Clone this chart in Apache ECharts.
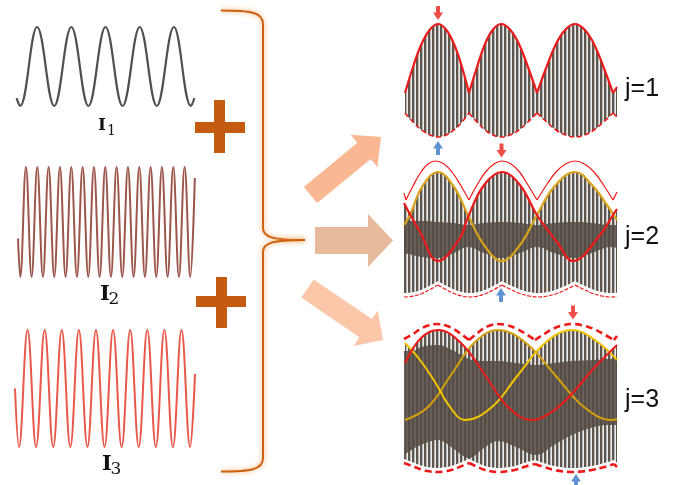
<!DOCTYPE html>
<html><head><meta charset="utf-8">
<script src="https://cdn.jsdelivr.net/npm/echarts@6/dist/echarts.min.js"></script>
<style>html,body{margin:0;padding:0;background:#fff}#c{width:682px;height:485px}</style>
</head><body><div id="c"></div>
<script>
// ===== DATA =====
// Left components: x = half-period index, y = normalised amplitude
const I1_t = [-0.2,0,1,2,3,4,5,6,7,8,9,10,10.2];
const I1_v = [-0.8,-1,1,-1,1,-1,1,-1,1,-1,1,-1,-0.8];
const I2_t = [-0.4,0,1,2,3,4,5,6,7,8,9,10,11,12,13,14,15,16,17,18,19,20,21,22,23,24,25,26,27,28,29,30,30.8];
const I2_v = [-0.3,-1,1,-1,1,-1,1,-1,1,-1,1,-1,1,-1,1,-1,1,-1,1,-1,1,-1,1,-1,1,-1,1,-1,1,-1,1,-1,0.8];
const I3_t = [-0.47,0,1,2,3,4,5,6,7,8,9,10,11,12,13,14,15,16,17,18,19,20,20.58];
const I3_v = [0,-1,1,-1,1,-1,1,-1,1,-1,1,-1,1,-1,1,-1,1,-1,1,-1,1,-1,0.25];

// Panel j=1 : time (a.u.) and intensity (a.u.), one sub-array per beat lobe
const p1X  = [[1,9,17.5,26,34,42,50,58,65],[65,73,81,89,97.5,106,115,124,133],[133,142.5,152,161.5,171,180.5,190,199.5,209],[209,213]];
const p1Hi = [[67,93,116,130.5,136,130.5,116,93,67],[67,93,116,130.5,136,130.5,116,93,67],[67,93,116,130.5,136,130.5,116,93,67],[67,73]];
const p1Lo = [[47,38,30,25,23,25,30,38,47],[47,38,30,25,23,25,30,38,47],[47,38,30,25,23,25,30,38,47],[47,43]];
const p1Marks = {down:[[34,147]], up:[[34,12]]};

// Panel j=2
const p2UpX = [[0,2],[2,9.5,17,24,31.5,40,48,56.5,65],[65,73,81.5,90,98,107,115.5,124,133],[133,142.5,152,161.5,171,180.5,190,199.5,209],[209,213]];
const p2UpY = [[112,105],[105,120,133,141,144,141,133,120,105],[105,120,133,141,144,141,133,120,105],[105,120,133,141,144,141,133,120,105],[105,113]];
const p2LoX = [[0,10,18,26,34],[34,42,50,58,66,74,82,90,98],[98,107,116,125,134.5,143.5,152.5,162,171],[171,180,189,198,207,213]];
const p2LoY = [[8,9,11.5,15.4,20],[20,15.4,11.5,9,8,9,11.5,15.4,20],[20,15.4,11.5,9,8,9,11.5,15.4,20],[20,15.4,11.5,9,8,8.2]];
const p2BotY = [[12,13,15.5,19.4,24],[24,19.4,15.5,13,12,13,15.5,19.4,24],[24,19.4,15.5,13,12,13,15.5,19.4,24],[24,19.4,15.5,13,12,12.2]];
const p2RedX = [0,16,34,56,64,80,98,116,133,153,169,196,209,213];
const p2RedY = [102,73,44,67,88,120,133,120,90,63,44,70,90,96];
const p2YelX = [0,6,18,34,50,64,80,98,116,133,150,171,188,203,213];
const p2YelY = [80,90,118,133,118,90,60,44,60,90,118,133,120,100,85];
const p2DarkX    = [0,18,34,50,64,80,98,116,133,150,171,188,207,213];
const p2DarkTopY = [84,84,83,82,80,82,83,82,80,82,83,82,80,80];
const p2DarkBotY = [52,48,47,52,58,52,47,52,58,52,47,52,58,57];
const p2Marks = {down:[[97.5,154.5]], up:[[97,10]]};

// Panel j=3
const p3EnvX = [[0,9,17,25,33,41,49,57,65],[65,72.25,79.5,86.75,94,103,112.5,121.75,131],[131,140.25,149.5,158.75,168,178.5,189,199.5,210],[210,213]];
const p3UpY  = [[146,151,156.4,159.7,161,159.7,156.4,151,145],[145,151,156.4,159.7,161,159.7,156.4,151,145],[145,151,156.4,159.7,161,159.7,156.4,151,145],[145,149]];
const p3LoY  = [[22,18.6,15.6,13.7,13,13.7,15.6,18.6,22],[22,18.6,15.6,13.7,13,13.7,15.6,18.6,21],[21,17.8,15.2,13.6,13,13.6,15.2,17.8,21],[21,18]];
const p3BotY = [[26,22.6,19.6,17.7,17,17.7,19.6,22.6,26],[26,22.6,19.6,17.7,17,17.7,19.6,22.6,25],[25,21.8,19.2,17.6,17,17.6,19.2,21.8,25],[25,22]];
const p3RedX  = [1,17,34,57,81,104,128,146,164,191,213];
const p3RedY  = [122,147,155,142,110,78,65,72,87,118,140];
const p3YelX  = [1,16,31,46,61,88,114,141,168,191,213];
const p3YelY  = [142,125,103,78,65,78,110,142,155,145,125];
const p3GoldX = [1,24,47,70,94,122,151,180,208,213];
const p3GoldY = [65,78,110,142,155,142,110,78,65,66];
const p3DarkX    = [0,9,17,34,50,65,80,94,112,132,150,168,190,205,213];
const p3DarkTopY = [134,134,138,140,134,126,124,124,122,120,122,124,125,126,126];
const p3DarkBotY = [30,36,40,45,36,27,37,44,38,30,40,50,58,60,60];
const p3Marks = {down:[[169,172.5]], up:[[172,4]]};

const subLabels = ['1','2','3'];
const jLabels = ['j=1','j=2','j=3'];

// ===== STYLES =====
const STRIPE = (function(){const c=document.createElement('canvas');c.width=4;c.height=4;const g=c.getContext('2d');
  g.fillStyle='#5c564f';g.fillRect(0,0,2,4);g.fillStyle='#bcbab6';g.fillRect(2,0,1,4);g.fillStyle='#ebeae8';g.fillRect(3,0,1,4);return c;})();
const PAT = {image: STRIPE, repeat: 'repeat'};
const DARK = 'rgba(84,76,68,0.86)';
const RED = '#ee1a1a';

const grids=[], xAxes=[], yAxes=[], S=[];
function panel(g, xr, yr){
  const i=grids.length;
  grids.push(Object.assign({show:false, containLabel:false, outerBoundsMode:'none'}, g));
  xAxes.push({type:'value', gridIndex:i, min:xr[0], max:xr[1], show:false});
  yAxes.push({type:'value', gridIndex:i, min:yr[0], max:yr[1], show:false});
  return i;
}
function pts(xs, ys){ return xs.map((x,k)=>[x, ys[k]]); }
function lineS(gi, xs, ys, color, width, dash, z){
  S.push({type:'line', xAxisIndex:gi, yAxisIndex:gi, data:pts(xs,ys), symbol:'none', smooth:0.4, clip:false, silent:true, z:z||5,
    lineStyle:{color:color, width:width, type:dash||'solid'}});
}
function areaS(gi, xs, ys, fill, z){
  S.push({type:'line', xAxisIndex:gi, yAxisIndex:gi, data:pts(xs,ys), symbol:'none', smooth:0.4, silent:true, z:z,
    lineStyle:{width:0, opacity:0}, areaStyle:{color:fill, opacity:1, origin:'start'}});
}
const ARROW = 'path://M3,0L7,0L7,6L10,6L5,13L0,6L3,6Z';
function marks(gi, m){
  S.push({type:'scatter', xAxisIndex:gi, yAxisIndex:gi, data:m.down, symbol:ARROW, symbolSize:[10,14], clip:false, silent:true, z:10, itemStyle:{color:'#e8201a'}});
  S.push({type:'scatter', xAxisIndex:gi, yAxisIndex:gi, data:m.up, symbol:ARROW, symbolRotate:180, symbolSize:[10,14], clip:false, silent:true, z:10, itemStyle:{color:'#3a78c8'}});
}

// Left components
const g0 = panel({left:16.6, top:27, width:177.8, height:79}, [-0.2,10.2], [-1,1]);
lineS(g0, I1_t, I1_v, '#505050', 2.2);
const g1 = panel({left:18, top:167, width:176.8, height:110}, [-0.4,30.8], [-1,1]);
lineS(g1, I2_t, I2_v, '#9c564b', 2);
const g2 = panel({left:15, top:330, width:180, height:117}, [-0.47,20.58], [-1,1]);
lineS(g2, I3_t, I3_v, '#e8594b', 2);

// Panel j=1
const g3 = panel({left:404, top:0, width:213, height:140}, [0,213], [20,160]);
p1X.forEach((xs,k)=>{
  areaS(g3, xs, p1Hi[k], PAT, 1);
  areaS(g3, xs, p1Lo[k], '#ffffff', 4);
  lineS(g3, xs, p1Hi[k], RED, 2.2, 'solid', 6);
  lineS(g3, xs, p1Lo[k], RED, 1.6, [5,3], 6);
});
marks(g3, p1Marks);

// Panel j=2
const g4 = panel({left:404, top:145, width:213, height:155}, [0,213], [5,160]);
areaS(g4, p2RedX, p2RedY, PAT, 1);
areaS(g4, p2YelX, p2YelY, PAT, 1);
areaS(g4, p2DarkX, p2DarkTopY, DARK, 2);
areaS(g4, p2DarkX, p2DarkBotY, PAT, 3);
p2LoX.forEach((xs,k)=>{ areaS(g4, xs, p2BotY[k], '#ffffff', 4); lineS(g4, xs, p2LoY[k], RED, 1.2, [4,1.5], 6); });
p2UpX.forEach((xs,k)=>{ lineS(g4, xs, p2UpY[k], RED, 1.2, 'solid', 6); });
lineS(g4, p2YelX, p2YelY, '#d9a21b', 2.2, 'solid', 6);
lineS(g4, p2RedX, p2RedY, RED, 2.2, 'solid', 7);
marks(g4, p2Marks);

// Panel j=3
const g5 = panel({left:404, top:300, width:213, height:175}, [0,213], [10,185]);
areaS(g5, p3RedX, p3RedY, PAT, 1);
areaS(g5, p3YelX, p3YelY, PAT, 1);
areaS(g5, p3GoldX, p3GoldY, PAT, 1);
areaS(g5, p3DarkX, p3DarkTopY, DARK, 2);
areaS(g5, p3DarkX, p3DarkBotY, PAT, 3);
p3EnvX.forEach((xs,k)=>{
  areaS(g5, xs, p3BotY[k], '#ffffff', 4);
  lineS(g5, xs, p3UpY[k], RED, 2.6, [7,4], 6);
  lineS(g5, xs, p3LoY[k], RED, 2.6, [7,4], 6);
});
lineS(g5, p3GoldX, p3GoldY, '#d6a00c', 2, 'solid', 6);
lineS(g5, p3YelX, p3YelY, '#f4c400', 2, 'solid', 6);
lineS(g5, p3RedX, p3RedY, RED, 2, 'solid', 7);
marks(g5, p3Marks);

// ===== decorations =====
function arrowPts(tx,ty,px,py,sw,hw,hl){
  const dx=px-tx, dy=py-ty, L=Math.hypot(dx,dy), ux=dx/L, uy=dy/L, nx=-uy, ny=ux, hx=px-ux*hl, hy=py-uy*hl;
  return [[tx+nx*sw/2,ty+ny*sw/2],[hx+nx*sw/2,hy+ny*sw/2],[hx+nx*hw/2,hy+ny*hw/2],[px,py],[hx-nx*hw/2,hy-ny*hw/2],[hx-nx*sw/2,hy-ny*sw/2],[tx-nx*sw/2,ty-ny*sw/2]];
}
const PLUS='#c55a11';
const BRACE = {fill:'none', stroke:'#cc6210', lineWidth:2, shadowBlur:5, shadowColor:'rgba(248,160,90,0.95)'};
function bz(x1,y1,c1x,c1y,c2x,c2y,x2,y2){ return {type:'bezierCurve', shape:{x1:x1,y1:y1,cpx1:c1x,cpy1:c1y,cpx2:c2x,cpy2:c2y,x2:x2,y2:y2}, style:BRACE}; }
function ln(x1,y1,x2,y2){ return {type:'line', shape:{x1:x1,y1:y1,x2:x2,y2:y2}, style:BRACE}; }
const graphic = [
  {type:'rect', shape:{x:214,y:100,width:11,height:53}, style:{fill:PLUS}},
  {type:'rect', shape:{x:195,y:122,width:50,height:11}, style:{fill:PLUS}},
  {type:'rect', shape:{x:216,y:277,width:11,height:51}, style:{fill:PLUS}},
  {type:'rect', shape:{x:196,y:296,width:50,height:11}, style:{fill:PLUS}},
  bz(221,10.5, 250,10.5, 263,12, 263,24),
  ln(263,24,263,228),
  bz(263,228, 263,237, 272,240, 305,240),
  bz(305,240, 272,240, 263,243, 263,252),
  ln(263,252,263,458),
  bz(263,458, 263,470, 250,471.5, 221,471.5),
  {type:'polygon', shape:{points:arrowPts(310.5,195,381,137,21,42,22)}, style:{fill:'#f9b891'}},
  {type:'polygon', shape:{points:arrowPts(315,240.5,393,240.5,27,53,25)}, style:{fill:'#e6ba9a'}},
  {type:'polygon', shape:{points:arrowPts(307.5,288.5,383,340,22,43,21)}, style:{fill:'#fcc6a9'}},
  {type:'text', style:{text:'I', x:98, y:125.5, font:'bold 17px "DejaVu Serif"', fill:'#111', textAlign:'left', textVerticalAlign:'middle'}},
  {type:'text', style:{text:subLabels[0], x:107, y:131.5, font:'14px "DejaVu Serif"', fill:'#111', textAlign:'left', textVerticalAlign:'middle'}},
  {type:'text', style:{text:'I', x:100, y:294.5, font:'bold 21px "DejaVu Serif"', fill:'#111', textAlign:'left', textVerticalAlign:'middle'}},
  {type:'text', style:{text:subLabels[1], x:108.5, y:300, font:'17px "DejaVu Serif"', fill:'#111', textAlign:'left', textVerticalAlign:'middle'}},
  {type:'text', style:{text:'I', x:102, y:464.5, font:'bold 21px "DejaVu Serif"', fill:'#111', textAlign:'left', textVerticalAlign:'middle'}},
  {type:'text', style:{text:subLabels[2], x:110.5, y:470, font:'17px "DejaVu Serif"', fill:'#111', textAlign:'left', textVerticalAlign:'middle'}},
  {type:'text', style:{text:jLabels[0], x:625, y:89, font:'25px "Liberation Sans"', fill:'#111', textAlign:'left', textVerticalAlign:'middle'}},
  {type:'text', style:{text:jLabels[1], x:625, y:237, font:'25px "Liberation Sans"', fill:'#111', textAlign:'left', textVerticalAlign:'middle'}},
  {type:'text', style:{text:jLabels[2], x:625, y:400, font:'25px "Liberation Sans"', fill:'#111', textAlign:'left', textVerticalAlign:'middle'}}
];

const chart = echarts.init(document.getElementById('c'), null, {renderer:'canvas', width:682, height:485});
chart.setOption({
  animation:false,
  backgroundColor:'#ffffff',
  grid:grids, xAxis:xAxes, yAxis:yAxes,
  series:S,
  graphic:graphic
});
</script></body></html>
